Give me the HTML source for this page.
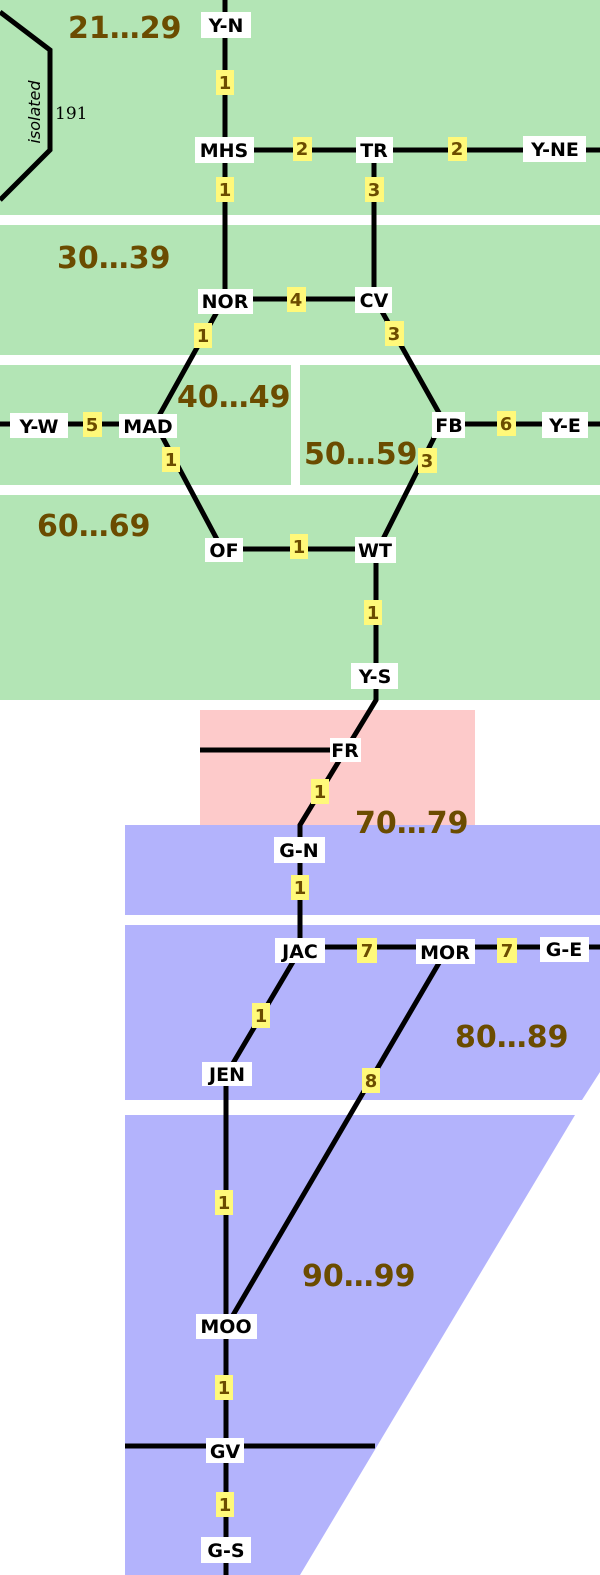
<!DOCTYPE html>
<html><head><meta charset="utf-8"><style>
html,body{margin:0;padding:0;background:#fff;}
svg{display:block}
.n{font-family:"DejaVu Sans","Liberation Sans",sans-serif;font-weight:bold;font-size:19px;fill:#000;text-anchor:middle}
.w{font-family:"DejaVu Sans","Liberation Sans",sans-serif;font-weight:bold;font-size:18px;fill:#6b4c00;text-anchor:middle}
.r{font-family:"DejaVu Sans","Liberation Sans",sans-serif;font-weight:bold;font-size:30px;fill:#6b4c00}
.nb{fill:#fff}
.wb{fill:#fff97a}
</style></head><body>
<svg width="600" height="1575" viewBox="0 0 600 1575" xmlns="http://www.w3.org/2000/svg">
<g fill="#b3e5b5">
<rect x="0" y="0" width="600" height="215"/>
<rect x="0" y="225" width="600" height="130"/>
<rect x="0" y="365" width="291" height="120"/>
<rect x="300" y="365" width="300" height="120"/>
<rect x="0" y="495" width="600" height="205"/>
</g>
<rect x="200" y="710" width="275" height="115" fill="#fdcaca"/>
<g fill="#b3b3fc">
<rect x="125" y="825" width="475" height="90"/>
<polygon points="125,925 600,925 600,1072 582,1100 125,1100"/>
<polygon points="125,1115 575,1115 300,1575 125,1575"/>
</g>
<text class="r" x="68" y="38">21…29</text>
<text class="r" x="57" y="268">30…39</text>
<text class="r" x="177" y="407">40…49</text>
<text class="r" x="304" y="464">50…59</text>
<text class="r" x="37" y="536">60…69</text>
<text class="r" x="355" y="833">70…79</text>
<text class="r" x="455" y="1047">80…89</text>
<text class="r" x="302" y="1286">90…99</text>
<g stroke="#000" stroke-width="5" fill="none" stroke-linejoin="miter">
<polyline points="0,12 50,50 50,150 0,200"/>
<line x1="225" y1="0" x2="225" y2="300"/>
<line x1="224" y1="150" x2="600" y2="150"/>
<line x1="374" y1="150" x2="374" y2="298"/>
<line x1="225" y1="299" x2="374" y2="299"/>
<polyline points="218,310 155,423 220,545"/>
<polyline points="380,308 443,420 380,545"/>
<line x1="226" y1="549" x2="376" y2="549"/>
<polyline points="376,549 376,700 370,710 300,825 300,950"/>
<line x1="200" y1="750" x2="346" y2="750"/>
<line x1="0" y1="424" x2="155" y2="424"/>
<line x1="443" y1="424" x2="600" y2="424"/>
<line x1="300" y1="947" x2="600" y2="947"/>
<polyline points="300,950 226,1075 226,1575"/>
<line x1="446" y1="951" x2="229" y2="1322"/>
<line x1="125" y1="1446" x2="375" y2="1446"/>
</g>
<text x="40" y="112" transform="rotate(-90 40 112)" font-family="DejaVu Sans,sans-serif" font-style="italic" font-size="16" text-anchor="middle">isolated</text>
<text x="55" y="119" font-family="DejaVu Serif,Liberation Serif,serif" font-size="17">191</text>
<g>
<rect class="nb" x="201" y="12" width="50" height="26"/><text class="n" x="226" y="32">Y-N</text>
<rect class="nb" x="195" y="137" width="59" height="26"/><text class="n" x="224" y="157">MHS</text>
<rect class="nb" x="356" y="137" width="37" height="26"/><text class="n" x="374" y="157">TR</text>
<rect class="nb" x="523" y="136" width="63" height="26"/><text class="n" x="555" y="156">Y-NE</text>
<rect class="nb" x="198" y="289" width="55" height="25"/><text class="n" x="225" y="308">NOR</text>
<rect class="nb" x="355" y="287" width="37" height="26"/><text class="n" x="374" y="307">CV</text>
<rect class="nb" x="10" y="413" width="58" height="25"/><text class="n" x="39" y="433">Y-W</text>
<rect class="nb" x="119" y="414" width="58" height="24"/><text class="n" x="148" y="433">MAD</text>
<rect class="nb" x="432" y="412" width="33" height="26"/><text class="n" x="449" y="432">FB</text>
<rect class="nb" x="542" y="412" width="46" height="26"/><text class="n" x="565" y="432">Y-E</text>
<rect class="nb" x="205" y="538" width="38" height="24"/><text class="n" x="224" y="557">OF</text>
<rect class="nb" x="355" y="537" width="41" height="26"/><text class="n" x="375" y="557">WT</text>
<rect class="nb" x="351" y="663" width="47" height="26"/><text class="n" x="375" y="683">Y-S</text>
<rect class="nb" x="330" y="738" width="31" height="24"/><text class="n" x="345" y="757">FR</text>
<rect class="nb" x="274" y="837" width="51" height="26"/><text class="n" x="299" y="857">G-N</text>
<rect class="nb" x="275" y="938" width="50" height="25"/><text class="n" x="300" y="958">JAC</text>
<rect class="nb" x="416" y="939" width="59" height="25"/><text class="n" x="445" y="959">MOR</text>
<rect class="nb" x="540" y="937" width="49" height="25"/><text class="n" x="564" y="956">G-E</text>
<rect class="nb" x="202" y="1062" width="50" height="24"/><text class="n" x="227" y="1081">JEN</text>
<rect class="nb" x="196" y="1314" width="61" height="25"/><text class="n" x="226" y="1333">MOO</text>
<rect class="nb" x="206" y="1438" width="38" height="25"/><text class="n" x="225" y="1458">GV</text>
<rect class="nb" x="201" y="1537" width="50" height="26"/><text class="n" x="226" y="1557">G-S</text>
</g>
<g>
<rect class="wb" x="216" y="70" width="18" height="25"/><text class="w" x="225" y="89">1</text>
<rect class="wb" x="216" y="177" width="18" height="25"/><text class="w" x="225" y="196">1</text>
<rect class="wb" x="293" y="137" width="19" height="24"/><text class="w" x="302" y="155">2</text>
<rect class="wb" x="448" y="137" width="19" height="24"/><text class="w" x="457" y="155">2</text>
<rect class="wb" x="365" y="177" width="19" height="25"/><text class="w" x="374" y="196">3</text>
<rect class="wb" x="287" y="287" width="19" height="25"/><text class="w" x="296" y="306">4</text>
<rect class="wb" x="194" y="323" width="18" height="25"/><text class="w" x="203" y="342">1</text>
<rect class="wb" x="385" y="321" width="19" height="25"/><text class="w" x="394" y="340">3</text>
<rect class="wb" x="83" y="412" width="19" height="25"/><text class="w" x="92" y="431">5</text>
<rect class="wb" x="162" y="447" width="18" height="25"/><text class="w" x="171" y="466">1</text>
<rect class="wb" x="497" y="411" width="19" height="25"/><text class="w" x="506" y="430">6</text>
<rect class="wb" x="418" y="448" width="19" height="25"/><text class="w" x="427" y="467">3</text>
<rect class="wb" x="290" y="534" width="18" height="25"/><text class="w" x="299" y="553">1</text>
<rect class="wb" x="364" y="600" width="18" height="25"/><text class="w" x="373" y="619">1</text>
<rect class="wb" x="311" y="779" width="18" height="25"/><text class="w" x="320" y="798">1</text>
<rect class="wb" x="291" y="875" width="18" height="25"/><text class="w" x="300" y="894">1</text>
<rect class="wb" x="357" y="938" width="20" height="25"/><text class="w" x="367" y="957">7</text>
<rect class="wb" x="497" y="938" width="20" height="25"/><text class="w" x="507" y="957">7</text>
<rect class="wb" x="252" y="1003" width="18" height="25"/><text class="w" x="261" y="1022">1</text>
<rect class="wb" x="362" y="1068" width="18" height="25"/><text class="w" x="371" y="1087">8</text>
<rect class="wb" x="215" y="1190" width="18" height="25"/><text class="w" x="224" y="1209">1</text>
<rect class="wb" x="215" y="1375" width="18" height="25"/><text class="w" x="224" y="1394">1</text>
<rect class="wb" x="216" y="1492" width="18" height="25"/><text class="w" x="225" y="1511">1</text>
</g>
</svg>
</body></html>
